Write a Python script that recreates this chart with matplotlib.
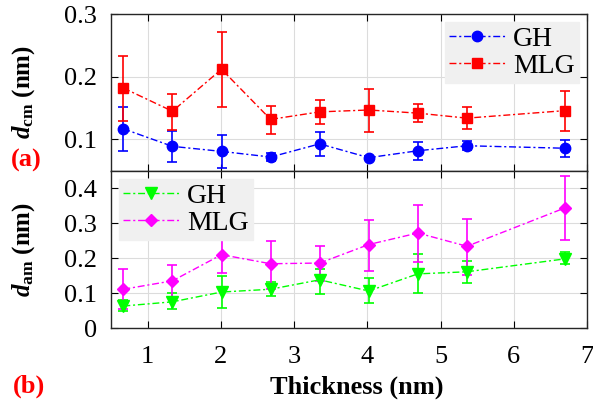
import matplotlib
matplotlib.use("Agg")
import matplotlib.pyplot as plt
import numpy as np

plt.rcParams["font.family"] = ["Liberation Serif", "DejaVu Serif"]
plt.rcParams["mathtext.fontset"] = "custom"
plt.rcParams["mathtext.rm"] = "Liberation Serif:bold"
plt.rcParams["mathtext.it"] = "Liberation Serif:bold:italic"
plt.rcParams["mathtext.bf"] = "Liberation Serif:bold"

thickness = [0.67, 1.34, 2.01, 2.68, 3.35, 4.02, 4.69, 5.36, 6.70]

# (a) d_cm
gh_cm = [0.117, 0.089, 0.081, 0.072, 0.093, 0.071, 0.082, 0.090, 0.086]
gh_cm_lo = [0.082, 0.064, 0.054, 0.066, 0.073, 0.069, 0.068, 0.083, 0.072]
gh_cm_hi = [0.152, 0.114, 0.107, 0.078, 0.112, 0.073, 0.096, 0.097, 0.099]
mlg_cm = [0.182, 0.145, 0.212, 0.132, 0.144, 0.147, 0.142, 0.134, 0.146]
mlg_cm_lo = [0.129, 0.115, 0.152, 0.109, 0.125, 0.112, 0.128, 0.116, 0.114]
mlg_cm_hi = [0.233, 0.173, 0.272, 0.154, 0.163, 0.181, 0.156, 0.151, 0.177]

# (b) d_am
gh_am = [0.063, 0.075, 0.103, 0.111, 0.138, 0.106, 0.155, 0.161, 0.198]
gh_am_lo = [0.048, 0.054, 0.057, 0.092, 0.096, 0.071, 0.100, 0.128, 0.182]
gh_am_hi = [0.079, 0.100, 0.148, 0.131, 0.170, 0.142, 0.212, 0.193, 0.218]
mlg_am = [0.111, 0.135, 0.210, 0.184, 0.186, 0.239, 0.272, 0.234, 0.344]
mlg_am_lo = [0.055, 0.089, 0.157, 0.113, 0.136, 0.164, 0.190, 0.153, 0.253]
mlg_am_hi = [0.169, 0.180, 0.260, 0.249, 0.234, 0.310, 0.351, 0.311, 0.436]


def err(y, lo, hi):
    y = np.array(y)
    return [y - np.array(lo), np.array(hi) - y]


def style_ax(ax):
    ax.grid(True, color="#dcdcdc", linewidth=0.8)
    ax.set_axisbelow(True)
    ax.tick_params(direction="in", top=True, right=True, labelsize=19, length=5, width=0.8)
    ax.tick_params(axis="x", pad=13)
    ax.tick_params(axis="y", pad=10)
    for s in ax.spines.values():
        s.set_color("#262626")
        s.set_linewidth(1.0)


fig = plt.figure(figsize=(5.93, 4.01), dpi=100)
ax1 = fig.add_axes([0.187, 0.574, 0.803, 0.391])
ax2 = fig.add_axes([0.187, 0.182, 0.803, 0.392])

kw = dict(linestyle=(0, (5, 2, 1.5, 2)), linewidth=1.0, capsize=3.5, elinewidth=1.2,
          capthick=1.2)
e1 = ax1.errorbar(thickness, gh_cm, yerr=err(gh_cm, gh_cm_lo, gh_cm_hi), color="#0000ff",
                  marker="o", markersize=7.5, **kw)
e2 = ax1.errorbar(thickness, mlg_cm, yerr=err(mlg_cm, mlg_cm_lo, mlg_cm_hi), color="#ff0000",
                  marker="s", markersize=6.5, **kw)
e3 = ax2.errorbar(thickness, gh_am, yerr=err(gh_am, gh_am_lo, gh_am_hi), color="#00ff00",
                  marker="v", markersize=8.5, **kw)
e4 = ax2.errorbar(thickness, mlg_am, yerr=err(mlg_am, mlg_am_lo, mlg_am_hi), color="#ff00ff",
                  marker="D", markersize=6.5, **kw)

for ax in (ax1, ax2):
    style_ax(ax)
    ax.set_xlim(0.5, 7)
    ax.set_xticks([1, 2, 3, 4, 5, 6, 7])

ax1.set_ylim(0.05, 0.3)
ax1.set_yticks([0.1, 0.2, 0.3])
ax1.set_yticklabels(["0.1", "0.2", "0.3"])
ax1.tick_params(labelbottom=False)
ax2.set_ylim(0, 0.45)
ax2.set_yticks([0, 0.1, 0.2, 0.3, 0.4])
ax2.set_yticklabels(["0", "0.1", "0.2", "0.3", "0.4"])

ax1.set_ylabel(r"$d_{\mathrm{cm}}$ (nm)", fontsize=18, fontweight="bold")
ax2.set_ylabel(r"$d_{\mathrm{am}}$ (nm)", fontsize=18, fontweight="bold")
ax2.set_xlabel("Thickness (nm)", fontsize=19, fontweight="bold")
ax1.yaxis.set_label_coords(-0.155, 0.5)
ax2.yaxis.set_label_coords(-0.155, 0.5)
ax2.xaxis.set_label_coords(0.517, -0.30)

leg_kw = dict(fontsize=20, frameon=True, fancybox=False, framealpha=1.0,
              facecolor="#f0f0f0", edgecolor="#f0f0f0", handlelength=2.0,
              borderpad=0.15, labelspacing=0.05, handletextpad=0.3, borderaxespad=0.3)
ax1.legend([e1[0], e2[0]], ["GH", "MLG"], loc="upper right", **leg_kw)
ax2.legend([e3[0], e4[0]], ["GH", "MLG"], loc="upper left", **leg_kw)

fig.text(0.018, 0.585, "(a)", color="#ff0000", fontsize=19, fontweight="bold")
fig.text(0.022, 0.02, "(b)", color="#ff0000", fontsize=19, fontweight="bold")

fig.savefig("out.png", dpi=100)
